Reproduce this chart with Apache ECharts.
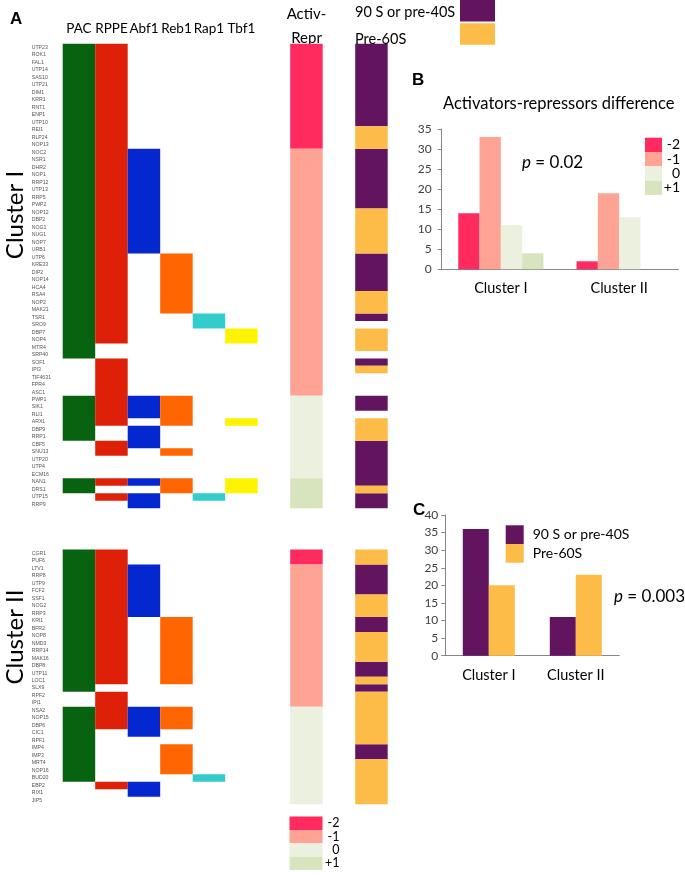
<!DOCTYPE html>
<html><head><meta charset="utf-8">
<script src="https://cdn.jsdelivr.net/npm/echarts@6/dist/echarts.min.js"></script>
<style>html,body{margin:0;padding:0;background:#fff}#c{width:685px;height:878px}</style>
</head><body><div id="c"></div>
<script>
// ---------------- DATA ----------------
const tfColumns = ['PAC', 'RPPE', 'Abf1', 'Reb1', 'Rap1', 'Tbf1'];
const heatColumns = ['PAC', 'RPPE', 'Abf1', 'Reb1', 'Rap1', 'Tbf1', 'gap1', 'Activ-Repr', 'gap2', 'Complex'];
const activLevels = ['-2', '-1', '0', '+1'];
const complexNames = ['90 S or pre-40S', 'Pre-60S'];
const clusterNames = ['Cluster I', 'Cluster II'];

const clusterIGenes = ['UTP23','ROK1','FAL1','UTP14','SAS10','UTP21','DIM1','KRR1','RNT1','ENP1','UTP10','REI1','RLP24','NOP13',
  'NOC2','NSR1','DHR2','NOP1','RRP12','UTP13','RRP5','PWP2','NOP12','DBP2','NOG1','NUG1','NOP7','URB1',
  'UTP6','KRE33','DIP2','NOP14','HCA4','RSA4','NOP2','MAK21','TSR1','SRO9','DBP7','NOP4','MTR4','SRP40',
  'SOF1','IPI3','TIF4631','FPR4','ASC1','PWP1','SIK1','RLI1','ARX1','DBP9','RRP1','CBF5','SNU13','UTP20',
  'UTP4','ECM16','NAN1','DRS1','UTP15','RRP9'];
// binding flags per gene: PAC RPPE Abf1 Reb1 Rap1 Tbf1
const clusterIBinding = ['110000','110000','110000','110000','110000','110000','110000','110000','110000','110000','110000','110000','110000','110000',
  '111000','111000','111000','111000','111000','111000','111000','111000','111000','111000','111000','111000','111000','111000',
  '110100','110100','110100','110100','110100','110100','110100','110100',
  '110010','110010','110001','110001','100000','100000',
  '010000','010000','010000','010000','010000',
  '111100','111100','111100','110101','101000','101000','011000','010100',
  '000000','000000','000000','111101','100101','011010','001000'];
const clusterIActivRepr = ['-2','-2','-2','-2','-2','-2','-2','-2','-2','-2','-2','-2','-2','-2',
  '-1','-1','-1','-1','-1','-1','-1','-1','-1','-1','-1','-1','-1','-1','-1','-1','-1','-1','-1','-1',
  '-1','-1','-1','-1','-1','-1','-1','-1','-1','-1','-1','-1','-1',
  '0','0','0','0','0','0','0','0','0','0','0','+1','+1','+1','+1'];
// P = 90 S or pre-40S, O = Pre-60S, - = none
const clusterIComplex = ['P','P','P','P','P','P','P','P','P','P','P','O','O','O',
  'P','P','P','P','P','P','P','P','O','O','O','O','O','O',
  'P','P','P','P','P','O','O','O','P','-','O','O','O','-',
  'P','O','-','-','-','P','P','-','O','O','O','P','P','P','P','P','P','O','P','P'];

const clusterIIGenes = ['CGR1','PUF6','LTV1','RRP8','UTP9','FCF2','SSF1','NOG2','RRP3','KRI1','BFR2','NOP8','NMD3','RRP14',
  'MAK16','DBP8','UTP11','LOC1','SLX9','RPF2','IPI1','NSA2','NOP15','DBP6','CIC1','RPF1','IMP4','IMP3',
  'MRT4','NOP16','BUD20','EBP2','RIX1','JIP5'];
const clusterIIBinding = ['110000','110000','111000','111000','111000','111000','111000','111000','111000',
  '110100','110100','110100','110100','110100','110100','110100','110100','110100','100000',
  '010000','010000','111100','111100','111100','101000','100000','100100','100100','100100','100100','100010',
  '011000','001000','000000'];
const clusterIIActivRepr = ['-2','-2',
  '-1','-1','-1','-1','-1','-1','-1','-1','-1','-1','-1','-1','-1','-1','-1','-1','-1','-1','-1',
  '0','0','0','0','0','0','0','0','0','0','0','0','0'];
const clusterIIComplex = ['O','O','P','P','P','P','O','O','O','P','P','O','O','O','O','P','P','O','P',
  'O','O','O','O','O','O','O','P','P','O','O','O','O','O','O'];

// panel B: counts of activators-repressors difference per cluster
const activCounts = { '-2': [14, 2], '-1': [33, 19], '0': [11, 13], '+1': [4, 0] };
// panel C: counts per complex per cluster
const complexCounts = { '90 S or pre-40S': [36, 11], 'Pre-60S': [20, 23] };

// ---------------- STYLE ----------------
const tfColors = ['#07630f', '#de2008', '#0527d0', '#ff6500', '#33cccc', '#fff400'];
const activColors = { '-2': '#ff2b5e', '-1': '#ffa495', '0': '#ebf0df', '+1': '#d8e4bd' };
const complexColors = { '90 S or pre-40S': '#63145f', 'Pre-60S': '#fdbb47' };
const FONT = 'Lato';

// a cell run covers rows [start, end] of one column
function renderRun(params, api) {
  const col = api.value(0);
  const c1 = api.coord([col, api.value(1)]);
  const c2 = api.coord([col, api.value(2)]);
  const s = api.size([1, 1]);
  return { type: 'rect', shape: { x: c1[0] - s[0] / 2, y: c1[1] - s[1] / 2, width: s[0], height: c2[1] - c1[1] + s[1] },
           style: { fill: api.visual('color') } };
}
function runsOf(col, flags) {
  const out = [];
  let start = -1;
  flags.forEach((f, r) => {
    if (f && start < 0) start = r;
    if (!f && start >= 0) { out.push([col, start, r - 1]); start = -1; }
  });
  if (start >= 0) out.push([col, start, flags.length - 1]);
  return out;
}
function cellSeries(name, color, g, runs) {
  return { type: 'custom', name, xAxisIndex: g, yAxisIndex: g, data: runs, itemStyle: { color },
           encode: { x: 0, y: [1, 2] }, renderItem: renderRun, silent: true, animation: false };
}

const clusters = [
  { genes: clusterIGenes, binding: clusterIBinding, activ: clusterIActivRepr, complex: clusterIComplex },
  { genes: clusterIIGenes, binding: clusterIIBinding, activ: clusterIIActivRepr, complex: clusterIIComplex }
];
const series = [];
clusters.forEach((cl, g) => {
  tfColumns.forEach((tf, c) => {
    series.push(cellSeries(tf, tfColors[c], g, runsOf(c, cl.binding.map(b => b[c] === '1'))));
  });
  activLevels.forEach(lv => {
    series.push(cellSeries(lv, activColors[lv], g, runsOf(7, cl.activ.map(a => a === lv))));
  });
  complexNames.forEach((nm, k) => {
    const code = k === 0 ? 'P' : 'O';
    series.push(cellSeries(nm, complexColors[nm], g, runsOf(9, cl.complex.map(a => a === code))));
  });
});
activLevels.forEach(lv => series.push({ type: 'bar', name: lv, xAxisIndex: 2, yAxisIndex: 2, data: activCounts[lv],
  itemStyle: { color: activColors[lv] }, barWidth: 21.3, barGap: '0%' }));
complexNames.forEach(nm => series.push({ type: 'bar', name: nm, xAxisIndex: 3, yAxisIndex: 3, data: complexCounts[nm],
  itemStyle: { color: complexColors[nm] }, barWidth: 26, barGap: '0%' }));

const ROW = 7.49;
const heatY = g => ({
  gridIndex: g, type: 'category', inverse: true, data: clusters[g].genes,
  axisLine: { show: false }, axisTick: { show: false }, splitLine: { show: false },
  axisLabel: { interval: 0, fontSize: 5.2, color: '#555', align: 'left', margin: 31, fontFamily: 'Liberation Sans' }
});
const heatX = g => ({
  gridIndex: g, type: 'category', position: 'top', data: heatColumns,
  axisLine: { show: false }, axisTick: { show: false }, splitLine: { show: false },
  axisLabel: { show: g === 0, interval: 0, margin: 8, fontSize: 13.5, color: '#000', fontFamily: FONT,
    formatter: v => tfColumns.includes(v) ? v : '' }
});
const axisGrey = '#868686';
const barX = g => ({
  gridIndex: g, type: 'category', data: clusterNames,
  axisLine: { lineStyle: { color: axisGrey } }, axisTick: { length: 5, lineStyle: { color: axisGrey } },
  axisLabel: { fontSize: 14.5, color: '#000', margin: 12, fontFamily: FONT }
});
const barY = (g, max, margin) => ({
  gridIndex: g, type: 'value', min: 0, max, interval: 5,
  axisLine: { show: true, lineStyle: { color: axisGrey } }, axisTick: { show: true, length: 4, lineStyle: { color: axisGrey } },
  splitLine: { show: false }, axisLabel: { fontSize: 12, color: '#404040', margin, fontFamily: FONT }
});
const gridBase = { containLabel: false, outerBoundsMode: 'none' };

const option = {
  animation: false,
  backgroundColor: '#fff',
  textStyle: { fontFamily: FONT },
  grid: [
    Object.assign({ left: 62.7, top: 43.8, width: 325, height: 62 * ROW }, gridBase),
    Object.assign({ left: 62.7, top: 549.5, width: 325, height: 34 * ROW }, gridBase),
    Object.assign({ left: 441.7, top: 129, width: 236.6, height: 140.3 }, gridBase),
    Object.assign({ left: 445.3, top: 515, width: 174, height: 140.7 }, gridBase)
  ],
  xAxis: [heatX(0), heatX(1), barX(2), barX(3)],
  yAxis: [heatY(0), heatY(1), barY(2, 35, 10), barY(3, 40, 7)],
  legend: [
    { data: activLevels, orient: 'vertical', left: 289.5, top: 816.5, padding: 0, itemWidth: 33, itemHeight: 13.4, itemGap: 0,
      icon: 'rect', selectedMode: false, formatter: n => '{t|' + n + '}',
      textStyle: { rich: { t: { width: 12, align: 'right', fontSize: 12.5, lineHeight: 13, color: '#000', fontFamily: FONT } } } },
    { data: complexNames, orient: 'vertical', left: 355, top: 0, padding: 0, itemWidth: 35, itemHeight: 21.5, itemGap: 0,
      icon: 'rect', align: 'right', selectedMode: false,
      formatter: n => (n === complexNames[0] ? '{a|' : '{b|') + n + '}',
      textStyle: { rich: {
        a: { width: 100, align: 'left', fontSize: 14.5, lineHeight: 10, padding: [3, 0, 0, 0], color: '#000', fontFamily: FONT },
        b: { width: 100, align: 'left', fontSize: 14.5, lineHeight: 10, padding: [10, 0, 0, 0], color: '#000', fontFamily: FONT } } } },
    { data: activLevels, orient: 'vertical', left: 645, top: 137.7, padding: 0, itemWidth: 17, itemHeight: 14.3, itemGap: 0,
      icon: 'rect', selectedMode: false, formatter: n => '{t|' + n + '}',
      textStyle: { rich: { t: { width: 13, align: 'right', fontSize: 14, lineHeight: 14, color: '#000', fontFamily: FONT } } } },
    { data: complexNames, orient: 'vertical', left: 505.7, top: 525.3, padding: 0, itemWidth: 18, itemHeight: 18.7, itemGap: 0,
      icon: 'rect', selectedMode: false, formatter: n => '{t|' + n + '}',
      textStyle: { rich: { t: { fontSize: 14, lineHeight: 18, padding: [0, 0, 0, 4], color: '#000', fontFamily: FONT } } } }
  ],
  title: [{ text: 'Activators-repressors difference', left: 443, top: 95, padding: 0,
    textStyle: { fontSize: 16.5, fontWeight: 'normal', color: '#000', fontFamily: FONT } }],
  graphic: [
    { type: 'text', left: 10, top: 11, style: { text: 'A', font: 'bold 17px "Liberation Sans"', fill: '#000' } },
    { type: 'text', left: 412, top: 72, style: { text: 'B', font: 'bold 17px "Liberation Sans"', fill: '#000' } },
    { type: 'text', left: 413, top: 502, style: { text: 'C', font: 'bold 17px "Liberation Sans"', fill: '#000' } },
    { type: 'text', x: 15, y: 215, rotation: Math.PI / 2,
      style: { text: 'Cluster I', font: '24px Lato', fill: '#000', align: 'center', verticalAlign: 'middle' } },
    { type: 'text', x: 15, y: 637, rotation: Math.PI / 2,
      style: { text: 'Cluster II', font: '24px Lato', fill: '#000', align: 'center', verticalAlign: 'middle' } },
    { type: 'text', x: 306.5, y: 14, style: { text: 'Activ-', font: '15px Lato', fill: '#000', align: 'center', verticalAlign: 'middle' } },
    { type: 'text', x: 306.5, y: 38, style: { text: 'Repr', font: '15px Lato', fill: '#000', align: 'center', verticalAlign: 'middle' } },
    { type: 'text', x: 522, y: 163, style: { text: '{i|p} = 0.02', verticalAlign: 'middle',
      rich: { i: { fontStyle: 'italic', fontSize: 17, fontFamily: FONT } }, font: '17px Lato', fill: '#000' } },
    { type: 'text', x: 614, y: 597, style: { text: '{i|p} = 0.003', verticalAlign: 'middle',
      rich: { i: { fontStyle: 'italic', fontSize: 17, fontFamily: FONT } }, font: '17px Lato', fill: '#000' } }
  ],
  series
};

const chart = echarts.init(document.getElementById('c'), null, { renderer: 'canvas' });
chart.setOption(option);
</script></body></html>
